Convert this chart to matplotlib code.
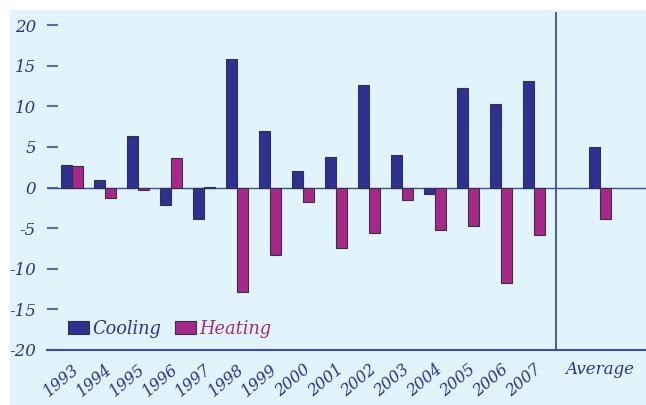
import matplotlib.pyplot as plt
import numpy as np
from matplotlib.patches import Rectangle

years = [str(y) for y in range(1993, 2008)]
labels = years + ['Average']
cooling = [2.75, 0.9, 6.4, -2.2, -3.9, 15.8, 6.9, 2.05, 3.7, 12.6, 4.0, -0.85, 12.3, 10.25, 13.1, 5.0]
heating = [2.6, -1.25, -0.3, 3.6, 0.05, -12.9, -8.3, -1.8, -7.4, -5.6, -1.5, -5.25, -4.7, -11.7, -5.8, -3.85]
yticks = [-20, -15, -10, -5, 0, 5, 10, 15, 20]

blue = '#2E3192'
magenta = '#A8288A'
bg = '#E1F4FB'
line_col = '#3D4CA6'

# years at 0..14, one empty slot, then the average
pos = np.r_[np.arange(len(years)), len(years) + 1]
w = 1 / 3

fig = plt.figure(figsize=(6.46, 4.05), dpi=100)
fig.add_artist(Rectangle((10 / 646, 0), 1, (405 - 10) / 405,
                         transform=fig.transFigure, color=bg, zorder=-10))
ax = fig.add_axes([47 / 646, 55 / 405, 1 - 47 / 646, 338 / 405])
ax.set_facecolor(bg)

ax.bar(pos - w / 2, cooling, w, color=blue, edgecolor='#333344', linewidth=0.8,
       label='Cooling', zorder=3)
ax.bar(pos + w / 2, heating, w, color=magenta, edgecolor='#333344', linewidth=0.8,
       label='Heating', zorder=3)
ax.axhline(0, color=line_col, lw=1, zorder=2)
ax.axvline(len(years) - 1 + 2 / 3, color=line_col, lw=1.3, zorder=2)

ax.set_xlim(-0.75, 17.4)
ax.set_ylim(-20, 21.6)

for s in ['top', 'right', 'left']:
    ax.spines[s].set_visible(False)
ax.spines['bottom'].set_color(line_col)
ax.spines['bottom'].set_linewidth(1.5)

ax.set_yticks(yticks)
ax.set_yticklabels([str(t) for t in yticks], fontfamily='DejaVu Serif',
                   fontstyle='italic', fontsize=12, color=blue)
ax.tick_params(axis='y', direction='in', length=8, width=1.5, color='#5A6BB5', pad=8)

ax.set_xticks(pos)
ax.set_xticklabels(labels, fontfamily='DejaVu Serif', fontstyle='italic',
                   fontsize=11.5, color=blue, rotation=40, ha='right',
                   rotation_mode='anchor')
ax.tick_params(axis='x', length=0, pad=8)
tl = ax.get_xticklabels()
tl[-1].set_rotation(0)
tl[-1].set_ha('center')
tl[-1].set_fontsize(12)

leg = ax.legend(loc='lower left', bbox_to_anchor=(0.024, 0.015), ncol=2,
                frameon=False, borderaxespad=0, handlelength=1.16,
                handleheight=0.72, handletextpad=0.17, columnspacing=0.8,
                prop={'family': 'DejaVu Serif', 'style': 'italic', 'size': 12.8})
leg.get_texts()[0].set_color(blue)
leg.get_texts()[1].set_color(magenta)

fig.savefig('out.png', dpi=100)
